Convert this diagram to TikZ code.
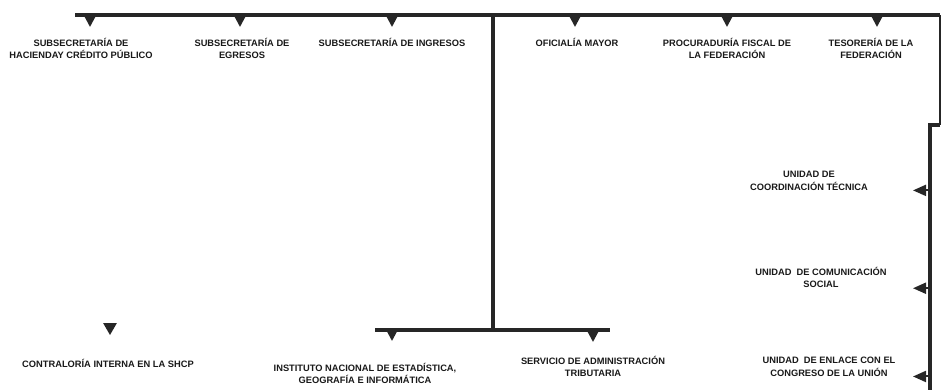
\documentclass[tikz,border=0pt]{standalone}
\usepackage{fontspec}
\setmainfont{Liberation Sans}
\usetikzlibrary{arrows.meta,shapes.geometric}

\begin{document}
\begin{tikzpicture}[x=1pt,y=-1pt,
  lbl/.style={align=center,inner sep=0pt,anchor=north,text=black!90,
    font=\fontsize{9.3}{12.5}\selectfont\bfseries},
  bus/.style={line width=3.4pt,draw=black!85},
  rail/.style={line width=4.4pt,draw=black!85,line join=miter},
  drop/.style={line width=2pt,draw=black!85,
    -{Triangle[length=10pt,width=10pt]},shorten >=#1},
  drop/.default=11pt,
  poke/.style={line width=2pt,draw=black!85,-{Triangle[length=13pt,width=11pt]}},
  ciTri/.style={regular polygon,regular polygon sides=3,shape border rotate=180,
    fill=black!85,inner sep=0pt,minimum size=16pt}]
  \useasboundingbox (0,0) rectangle (943,390);
  % top row
  \node[lbl] (hcp) at (81,38) {SUBSECRETARÍA DE\\HACIENDAY CRÉDITO PÚBLICO};
  \node[lbl] (egr) at (242,38) {SUBSECRETARÍA DE\\EGRESOS};
  \node[lbl] (ing) at (392,38) {SUBSECRETARÍA DE INGRESOS};
  \node[lbl] (ofi) at (577,38) {OFICIALÍA MAYOR};
  \node[lbl] (pro) at (727,38) {PROCURADURÍA FISCAL DE\\LA FEDERACIÓN};
  \node[lbl] (tes) at (871,38) {TESORERÍA DE LA\\FEDERACIÓN};
  % right column
  \node[lbl] (crd) at (809,171) {UNIDAD DE\\COORDINACIÓN TÉCNICA};
  \node[lbl] (soc) at (821,267) {UNIDAD\ \ DE COMUNICACIÓN\\SOCIAL};
  \node[lbl] (enl) at (829,357) {UNIDAD\ \ DE ENLACE CON EL\\CONGRESO DE LA UNIÓN};
  % bottom row
  \node[lbl] (ci) at (108,359) {CONTRALORÍA INTERNA EN LA SHCP};
  \node[ciTri] (ciMark) at (110,327) {};
  \node[lbl] (inegi) at (365,363) {INSTITUTO NACIONAL DE ESTADÍSTICA,\\GEOGRAFÍA E INFORMÁTICA};
  \node[lbl] (sat) at (593,356) {SERVICIO DE ADMINISTRACIÓN\\TRIBUTARIA};

  \coordinate (busL) at (75,15);
  \coordinate (corner) at (940,15);
  \coordinate (jog) at (940,125);
  \coordinate (railTop) at (930,125);
  \coordinate (railBot) at (930,392);
  \coordinate (tipx) at (913,0);
  \coordinate (hub) at (493,15);
  \coordinate (hubBot) at (493,330);
  \coordinate (barL) at (375,330);
  \coordinate (barR) at (610,330);

  \draw[bus] (busL) -- (corner);
  \draw[line width=2pt,draw=black!85] (corner) -- (jog);
  \draw[rail] (jog) -- (railTop) -- (railBot);
  \draw[bus] (hub) -- (hubBot);
  \draw[bus] (barL) -- (barR);

  \foreach \n/\x in {hcp/90,egr/240,ing/392,ofi/575,pro/727,tes/877}
    \draw[drop] (\x,15) -- (\x,15 |- \n.north);
  \foreach \n in {crd,soc,enl}
    \draw[poke] (railTop |- \n.south) -- (tipx |- \n.south);
  \draw[drop=22pt] (392,330) -- (392,330 |- inegi.north);
  \draw[drop=14pt] (593,330) -- (593,330 |- sat.north);
\end{tikzpicture}
\end{document}
